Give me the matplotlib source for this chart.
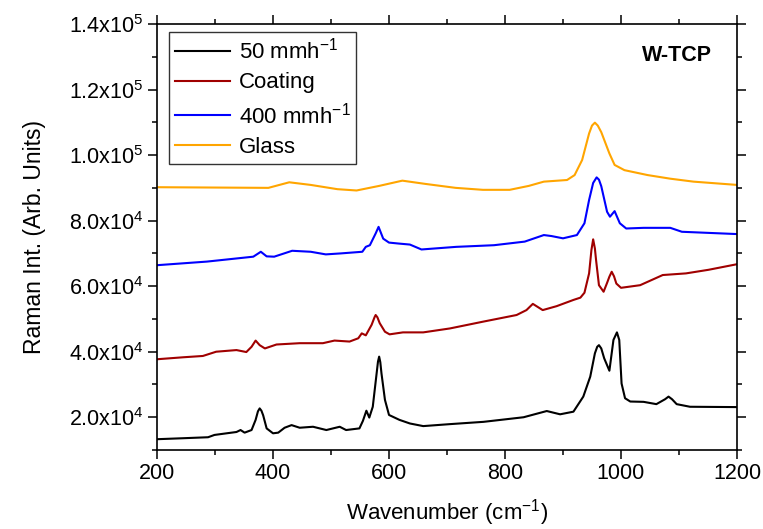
import matplotlib
matplotlib.use("Agg")
import matplotlib.pyplot as plt
from matplotlib.ticker import MultipleLocator, FixedLocator

plt.rcParams['font.family'] = ['Liberation Sans', 'DejaVu Sans']
plt.rcParams['mathtext.default'] = 'regular'

# ---------------- data ----------------
wn_50 = [200, 245, 288, 299, 320, 337, 344, 351, 363, 370, 374, 377, 380, 383, 389, 400, 409,
         420, 432, 446, 469, 492, 515, 526, 549, 555, 561, 566, 572, 578, 581, 583, 585, 587,
         593, 600, 618, 636, 659, 705, 763, 832, 872, 895, 918, 935, 947, 955, 959, 962, 966,
         971, 980, 987, 993, 997, 1001, 1007, 1016, 1039, 1061, 1076, 1082, 1088, 1096,
         1119, 1199]
val_50 = [1.33, 1.36, 1.39, 1.46, 1.51, 1.55, 1.61, 1.53, 1.61, 1.92, 2.18, 2.27, 2.20, 2.06,
          1.66, 1.51, 1.53, 1.68, 1.76, 1.68, 1.71, 1.61, 1.71, 1.61, 1.66, 1.89, 2.20, 1.99,
          2.32, 3.24, 3.70, 3.85, 3.68, 3.34, 2.53, 2.07, 1.92, 1.81, 1.73, 1.79, 1.86, 2.00,
          2.19, 2.09, 2.17, 2.63, 3.24, 3.95, 4.15, 4.20, 4.10, 3.80, 3.42, 4.36, 4.59, 4.36,
          3.03, 2.58, 2.48, 2.47, 2.40, 2.55, 2.63, 2.55, 2.40, 2.32, 2.31]

wn_coat = [200, 245, 279, 302, 337, 354, 363, 370, 377, 386, 406, 446, 486, 506, 532, 547,
           553, 560, 570, 575, 577, 580, 584, 593, 601, 624, 659, 705, 763, 820, 837, 848,
           865, 889, 918, 930, 937, 945, 949, 952, 955, 957, 962, 970, 976, 980, 984, 988,
           992, 1000, 1033, 1072, 1112, 1151, 1200]
val_coat = [3.77, 3.83, 3.87, 4.00, 4.05, 3.99, 4.15, 4.34, 4.20, 4.10, 4.22, 4.26, 4.26,
            4.34, 4.31, 4.41, 4.56, 4.50, 4.82, 5.05, 5.12, 5.05, 4.87, 4.61, 4.53, 4.59,
            4.59, 4.71, 4.92, 5.12, 5.27, 5.46, 5.27, 5.39, 5.58, 5.65, 5.80, 6.39, 7.10,
            7.43, 7.15, 6.80, 6.03, 5.83, 6.10, 6.29, 6.44, 6.30, 6.08, 5.95, 6.03, 6.34,
            6.39, 6.50, 6.67]

wn_400 = [200, 286, 366, 379, 389, 402, 433, 465, 491, 517, 554, 560, 567, 577, 582, 590,
          600, 617, 636, 656, 716, 781, 834, 867, 880, 900, 924, 937, 945, 952, 958, 962, 966,
          976, 981, 989, 998, 1009, 1039, 1079, 1085, 1105, 1200]
val_400 = [6.64, 6.75, 6.90, 7.05, 6.91, 6.90, 7.08, 7.05, 6.97, 7.00, 7.05, 7.20, 7.25,
           7.61, 7.81, 7.45, 7.33, 7.30, 7.27, 7.12, 7.20, 7.25, 7.36, 7.56, 7.53, 7.46,
           7.56, 7.92, 8.63, 9.15, 9.32, 9.25, 9.05, 8.27, 8.12, 8.29, 7.92, 7.76, 7.78,
           7.78, 7.78, 7.66, 7.59]

wn_glass = [200, 392, 428, 465, 511, 544, 583, 623, 663, 715, 762, 808, 841, 867, 907, 920,
            933, 945, 950, 955, 960, 966, 980, 989, 1006, 1046, 1085, 1125, 1200]
val_glass = [9.02, 9.00, 9.17, 9.09, 8.96, 8.92, 9.06, 9.22, 9.12, 9.00, 8.94, 8.94, 9.06,
             9.19, 9.24, 9.39, 9.85, 10.66, 10.90, 10.99, 10.90, 10.70, 10.05, 9.70, 9.54,
             9.39, 9.28, 9.19, 9.09]

scale = 1e4
labels = ['50 mmh$^{-1}$', 'Coating', '400 mmh$^{-1}$', 'Glass']
colors = ['#000000', '#A00000', '#0000FF', '#FFA500']

yticks = [2e4, 4e4, 6e4, 8e4, 1.0e5, 1.2e5, 1.4e5]
ytick_labels = ['2.0x10$^{4}$', '4.0x10$^{4}$', '6.0x10$^{4}$', '8.0x10$^{4}$',
                '1.0x10$^{5}$', '1.2x10$^{5}$', '1.4x10$^{5}$']
xticks = [200, 400, 600, 800, 1000, 1200]

# ---------------- figure ----------------
fig = plt.figure(figsize=(7.63, 5.29), dpi=100)
ax = fig.add_axes([0.2058, 0.1493, 0.7601, 0.8053])

series = [(wn_50, val_50), (wn_coat, val_coat), (wn_400, val_400), (wn_glass, val_glass)]
for (x, y), lab, c in zip(series, labels, colors):
    ax.plot(x, [v * scale for v in y], color=c, lw=1.5, label=lab)

ax.set_xlim(200, 1200)
ax.set_ylim(1e4, 1.4e5)
ax.xaxis.set_major_locator(FixedLocator(xticks))
ax.xaxis.set_minor_locator(MultipleLocator(100))
ax.yaxis.set_major_locator(FixedLocator(yticks))
ax.set_yticklabels(ytick_labels)
ax.yaxis.set_minor_locator(MultipleLocator(1e4))

ax.tick_params(axis='both', which='major', direction='out', length=6.5, width=1.1,
               labelsize=15.5, top=True, right=True, pad=3)
ax.tick_params(axis='both', which='minor', direction='out', length=3.5, width=1.1,
               top=True, right=True)
for s in ax.spines.values():
    s.set_linewidth(1.2)

ax.set_xlabel('Wavenumber (cm$^{-1}$)', fontsize=16, labelpad=9)
ax.set_ylabel('Raman Int. (Arb. Units)', fontsize=16.5, labelpad=17)

leg = ax.legend(loc='upper left', bbox_to_anchor=(0.0207, 0.981), borderaxespad=0,
                fontsize=16, handlelength=2.5, labelspacing=0.4, handletextpad=0.4,
                frameon=True, fancybox=False, borderpad=0.25)
leg.get_frame().set_edgecolor('black')
leg.get_frame().set_linewidth(1.0)

ax.text(0.957, 0.927, 'W-TCP', transform=ax.transAxes, ha='right', va='center',
        fontsize=15.5, fontweight='bold')

fig.savefig('out.png', dpi=100)
